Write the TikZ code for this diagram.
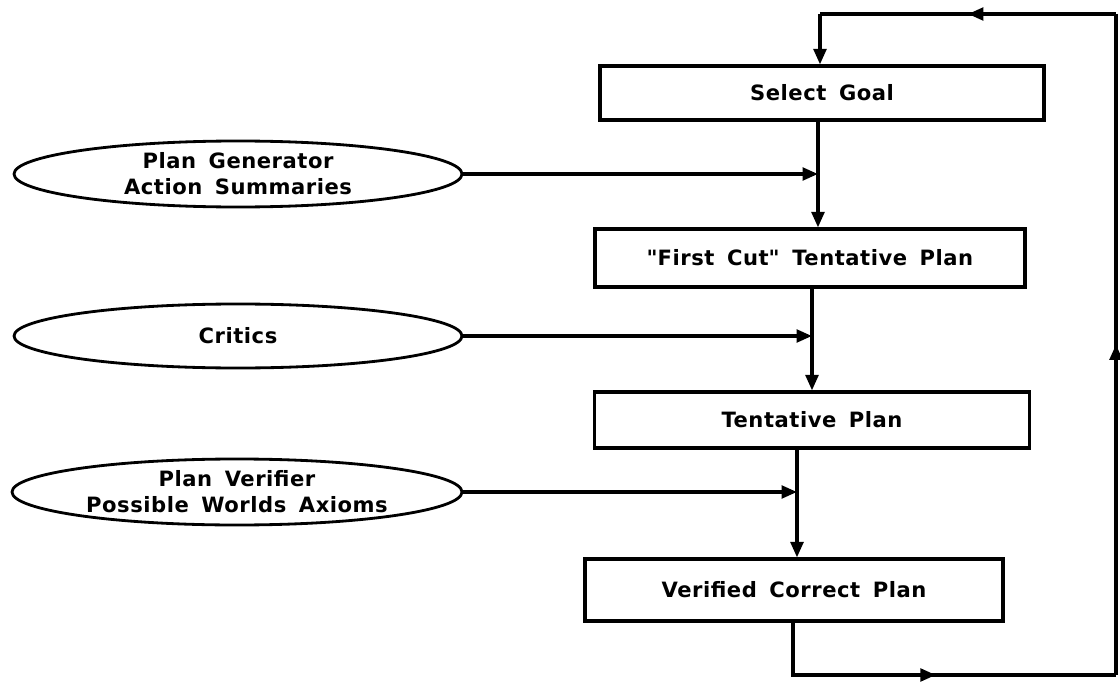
\documentclass[tikz,border=0pt]{standalone}
\usepackage{fontspec}
\setmainfont{DejaVu Sans}[LetterSpace=2.5,WordSpace=1.6]
\usetikzlibrary{shapes.geometric,arrows.meta,decorations.markings}
\begin{document}
\begin{tikzpicture}[x=0.025cm,y=-0.025cm,
  tip/.style={-{Triangle[length=11pt,width=9pt]}},
  box/.style={draw,line width=2.2pt,rectangle,inner sep=0pt,
    font=\bfseries\fontsize{15}{18.5}\selectfont},
  oval/.style={draw,line width=2pt,ellipse,inner sep=0pt,
    font=\bfseries\fontsize{15}{18.5}\selectfont,align=center},
  link/.style={line width=2.4pt},
  midtip/.style={postaction={decorate},decoration={markings,
    mark=at position #1 with {\arrow{Triangle[length=11pt,width=9pt]}}}}]
\useasboundingbox (0,0) rectangle (1120,683);

% process boxes
\node[box,minimum width=444*0.025cm,minimum height=54*0.025cm] (sel) at (822,93) {Select Goal};
\node[box,minimum width=430*0.025cm,minimum height=58*0.025cm] (first) at (810,258) {\textquotedbl First Cut\textquotedbl{} Tentative Plan};
\node[box,minimum width=435*0.025cm,minimum height=56*0.025cm] (tent) at (812,420) {Tentative Plan};
\node[box,minimum width=418*0.025cm,minimum height=62*0.025cm] (ver) at (794,590) {Verified Correct Plan};

% knowledge sources
\node[oval,minimum width=448*0.025cm,minimum height=66*0.025cm] (gen) at (238,174) {Plan Generator\\Action Summaries};
\node[oval,minimum width=448*0.025cm,minimum height=64*0.025cm] (crit) at (238,336) {Critics};
\node[oval,minimum width=450*0.025cm,minimum height=66*0.025cm] (verif) at (237,492) {Plan Verifier\\Possible Worlds Axioms};

% junctions on the main spine
\coordinate (j1) at (818,174);
\coordinate (j2) at (812,336);
\coordinate (j3) at (797,492);

% spine
\draw[link] (sel.south -| j1) -- (j1);
\draw[link,tip] (j1) -- (first.north -| j1);
\draw[link] (first.south -| j2) -- (j2);
\draw[link,tip] (j2) -- (tent.north -| j2);
\draw[link] (tent.south -| j3) -- (j3);
\draw[link,tip] (j3) -- (ver.north -| j3);

% inputs from the knowledge sources
\draw[link,tip] (gen.east) -- (j1);
\draw[link,tip] (crit.east) -- (j2);
\draw[link,tip] (verif.east) -- (j3);

% feedback loop back to goal selection
\coordinate (b1) at (793,675);
\coordinate (b2) at (1116,675);
\coordinate (t1) at (1116,14);
\coordinate (t2) at (820,14);
\draw[link,midtip=0.52] (ver.south -| b1) -- (b1) -- (b2);
\draw[link,midtip=0.5] (b2) -- (t1);
\draw[link,midtip=0.5] (t1) -- (t2);
\draw[link,tip] (t2) -- (sel.north -| t2);
\end{tikzpicture}
\end{document}
